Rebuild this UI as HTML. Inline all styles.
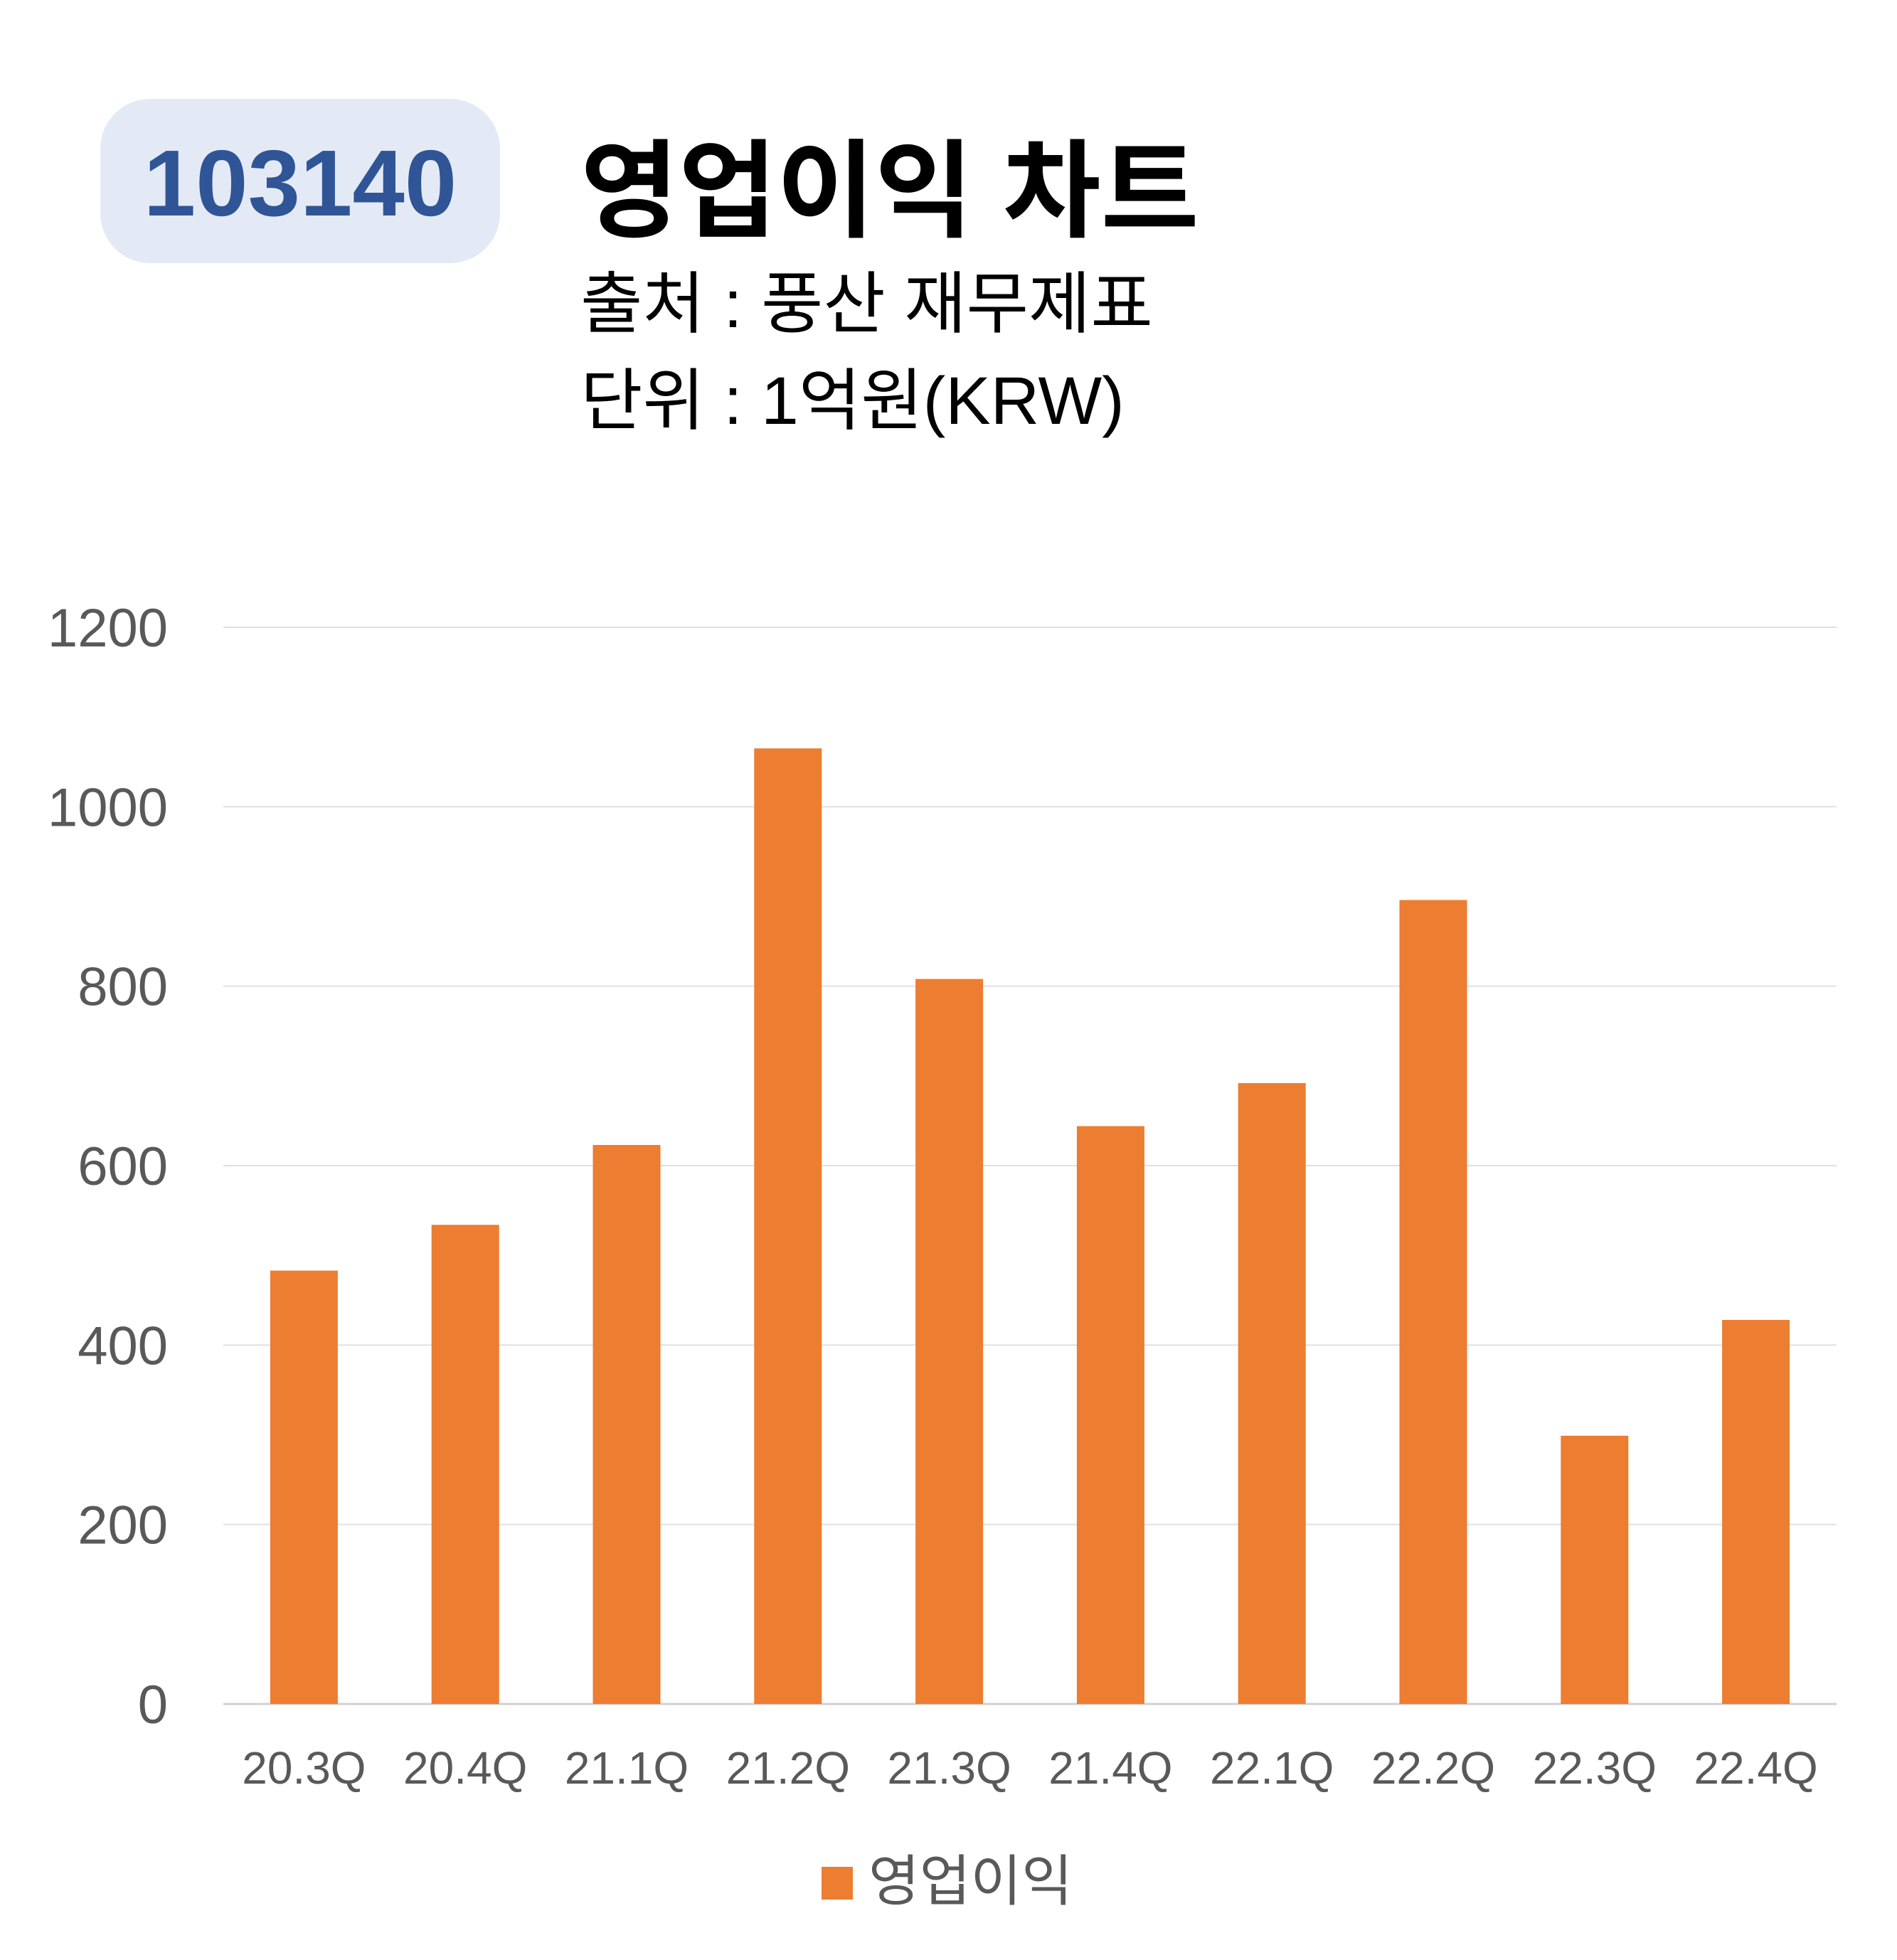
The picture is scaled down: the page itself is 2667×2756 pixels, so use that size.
<!DOCTYPE html>
<html><head><meta charset="utf-8"><style>
body{margin:0;background:#fff;}
svg{display:block;font-family:"Liberation Sans","Noto Sans CJK KR",sans-serif;}
</style></head><body>
<svg width="2667" height="2756" viewBox="0 0 2667 2756">
<rect x="141" y="139" width="562" height="231" rx="70" fill="#e4eaf5"/>
<text x="422" y="303" text-anchor="middle" font-size="132" font-weight="bold" fill="#2f5597">103140</text>
<text x="816" y="321" font-size="150" font-weight="bold" fill="#000">영업이익 차트</text>
<text x="816" y="460" font-size="95" fill="#000">출처 : 풍산 재무제표</text>
<text x="816" y="596" font-size="95" fill="#000">단위 : 1억원(KRW)</text>
<g id="grid"></g><g id="bars"></g><g id="labels"></g>
<rect x="1155" y="2625" width="44" height="46" fill="#ed7d31"/>
<text x="1221" y="2672" font-size="78" fill="#595959">영업이익</text>
</svg>
<script>
const categories=["20.3Q","20.4Q","21.1Q","21.2Q","21.3Q","21.4Q","22.1Q","22.2Q","22.3Q","22.4Q"];
const values=[483,534,623,1065,808,644,692,896,299,428];
const yTicks=[0,200,400,600,800,1000,1200];
const NS="http://www.w3.org/2000/svg";
const X0=314,X1=2582,Y0=2396,Y1=882,YMAX=1200;
const y=v=>Y0-(v/YMAX)*(Y0-Y1);
const band=(X1-X0)/categories.length;
const x=i=>X0+band*(i+0.5);
const bw=95;
function mk(tag,attrs,parent){const e=document.createElementNS(NS,tag);for(const k in attrs)e.setAttribute(k,attrs[k]);document.getElementById(parent).appendChild(e);return e;}
yTicks.forEach(t=>{
  const l=mk('line',{x1:X0,x2:X1,y1:y(t),y2:y(t),stroke:t===0?'#d0d0d0':'#e0e0e0','stroke-width':t===0?3:2},'grid');
  
  
  const tx=mk('text',{x:236,y:y(t)+27,'text-anchor':'end','font-size':76,fill:'#595959'},'labels');
  tx.textContent=t;
  
  
});
categories.forEach((c,i)=>{
  const r=mk('rect',{x:x(i)-bw/2,y:y(values[i]),width:bw,height:Y0-y(values[i]),fill:'#ed7d31'},'bars');
  
  
  const tx=mk('text',{x:x(i),y:2508,'text-anchor':'middle','font-size':64,fill:'#595959'},'labels');
  tx.textContent=c;
  
  
});
</script>
</body></html>
